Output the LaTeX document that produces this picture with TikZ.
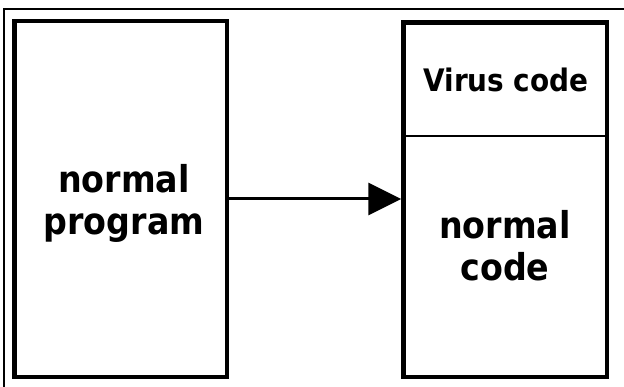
\documentclass[tikz,border=0pt]{standalone}
\usepackage{fontspec}
\setmainfont{DejaVu Sans Condensed}
\usetikzlibrary{arrows.meta}
\begin{document}
\begin{tikzpicture}[x=1pt,y=1pt,
  box/.style={draw, line width=4.5pt, inner sep=0pt},
  big/.style={font=\bfseries\fontsize{37}{42}\selectfont, align=center, anchor=base, inner sep=0pt},
  mid/.style={font=\bfseries\fontsize{31}{34}\selectfont, anchor=base, inner sep=0pt},
  conn/.style={line width=3pt, -{Triangle[length=33pt,width=32pt]}}
 ]
\useasboundingbox (0,0) rectangle (624,386);
\draw[line width=2.8pt] (4,-2) -- (4,377) -- (626,377);
\node[box, minimum width=212.5pt, minimum height=356pt] (prog) at (120.75,187) {};
\node[box, minimum width=203.5pt, minimum height=354.5pt] (host) at (505.25,186.25) {};
\coordinate (divl) at (host.west |- 0,250);
\coordinate (divr) at (host.east |- 0,250);
\draw[line width=1.5pt] (divl) -- (divr);
\node[big] (ptext) at (124,151) {normal\\program};
\node[mid] (vtext) at (506,294) {Virus code};
\node[big] (ctext) at (505,106) {normal\\code};
\draw[conn] (prog.east) -- (prog.east -| host.west);
\end{tikzpicture}
\end{document}
